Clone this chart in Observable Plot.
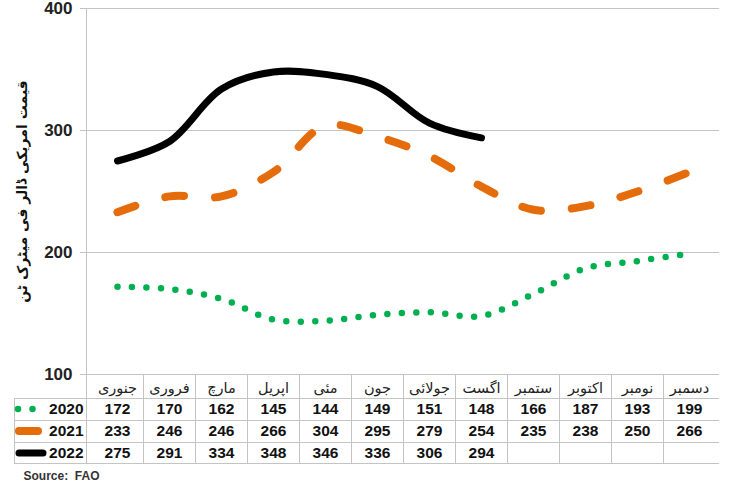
<!DOCTYPE html>
<html>
<head>
<meta charset="utf-8">
<script src="https://cdn.jsdelivr.net/npm/d3@7"></script>
<script src="https://cdn.jsdelivr.net/npm/@observablehq/plot@0.6"></script>
<style>
  html, body { margin: 0; padding: 0; background: #fff; }
</style>
</head>
<body>
<div id="chart"></div>
<script>
// ---- data ----
const months = ["جنوری", "فروری", "مارچ", "اپریل", "مئی", "جون", "جولائی", "اگست", "ستمبر", "اکتوبر", "نومبر", "دسمبر"];
const years = ["2020", "2021", "2022"];
const values2020 = [172, 170, 162, 145, 144, 149, 151, 148, 166, 187, 193, 199];
const values2021 = [233, 246, 246, 266, 304, 295, 279, 254, 235, 238, 250, 266];
const values2022 = [275, 291, 334, 348, 346, 336, 306, 294];
const yTicks = [100, 200, 300, 400];
const yTitle = "قیمت امریکی ڈالر فی میٹرک ٹن";
const sourceText = "Source:  FAO";

// ---- series styles ----
const seriesStyles = [
  {stroke: "#00b050", strokeWidth: 6.5, strokeDasharray: "0 14.5"},
  {stroke: "#e46c0a", strokeWidth: 8, strokeDasharray: "19 31"},
  {stroke: "#000000", strokeWidth: 7, strokeDasharray: null}
];

const seriesValues = [values2020, values2021, values2022];
const series = seriesValues.map((vals, i) =>
  vals.map((v, j) => ({year: years[i], month: months[j], value: v}))
);

const gridColor = "#c4c4c4";
const rowOffsets = [14, 35, 57, 79];       // text centres below frame bottom
const rowBounds = [24, 46, 68, 89];        // row borders below frame bottom

// custom mark drawing the data-table grid and legend swatches
function tableGrid(index, scales, values, dims) {
  const g = d3.create("svg:g").attr("fill", "none");
  const x0 = dims.marginLeft;
  const x1 = dims.width - dims.marginRight;
  const yb = dims.height - dims.marginBottom;
  const yt = dims.marginTop;
  const tableLeft = 14;
  const grid = g.append("g").attr("stroke", gridColor).attr("stroke-width", 1);
  // axis line, extending through the table
  grid.append("line").attr("x1", x0 + 0.5).attr("x2", x0 + 0.5).attr("y1", yt).attr("y2", yb + rowBounds[3]);
  // column separators
  months.forEach((m, i) => {
    if (i === 0) return;
    const x = Math.round(scales.x(m)) + 0.5;
    grid.append("line").attr("x1", x).attr("x2", x).attr("y1", yb).attr("y2", yb + rowBounds[3]);
  });
  // left border of the legend column
  grid.append("line").attr("x1", tableLeft + 0.5).attr("x2", tableLeft + 0.5)
    .attr("y1", yb + rowBounds[0]).attr("y2", yb + rowBounds[3]);
  // horizontal row borders
  rowBounds.forEach(b => {
    grid.append("line").attr("x1", tableLeft).attr("x2", x1)
      .attr("y1", yb + b + 0.5).attr("y2", yb + b + 0.5);
  });
  // legend swatches
  const swatchX = [[18, 33.5], [19, 41], [19, 43]];
  seriesStyles.forEach((s, i) => {
    const y = yb + rowOffsets[i + 1];
    const ln = g.append("line")
      .attr("x1", swatchX[i][0]).attr("x2", swatchX[i][1])
      .attr("y1", y).attr("y2", y)
      .attr("stroke", s.stroke).attr("stroke-width", s.strokeWidth)
      .attr("stroke-linecap", "round");
    if (s.strokeDasharray) ln.attr("stroke-dasharray", s.strokeDasharray);
  });
  return g.node();
}

const font = "'Liberation Sans', Arial, Helvetica, sans-serif";
const urduFont = "'DejaVu Sans', sans-serif";

const marks = [
  Plot.gridY(yTicks.slice(1), {stroke: gridColor, strokeOpacity: 1}),
  Plot.ruleY([yTicks[0]], {stroke: gridColor}),
  Plot.axisY({
    ticks: yTicks, tickSize: 6, tickPadding: 8, tickFormat: d => String(d),
    label: null, fontSize: 17, fontWeight: "bold", stroke: gridColor, fill: "#222"
  }),
  tableGrid,
  // y-axis title
  Plot.text([yTitle], {
    frameAnchor: "left", dx: -64, rotate: -90, textAnchor: "middle", lineAnchor: "middle",
    fontFamily: urduFont, fontWeight: "bold", fontSize: 14, fill: "#111"
  }),
  // month header row
  Plot.text(months, {
    x: d => d, text: d => d, frameAnchor: "bottom", dy: rowOffsets[0], lineAnchor: "middle",
    fontFamily: urduFont, fontSize: 14.5, fill: "#222"
  }),
  // year labels
  ...years.map((yr, i) => Plot.text([yr], {
    frameAnchor: "bottom-left", dx: -3, dy: rowOffsets[i + 1], textAnchor: "end", lineAnchor: "middle",
    fontWeight: "bold", fontSize: 15.5, fill: "#111"
  })),
  // table values
  ...series.map((data, i) => Plot.text(data, {
    x: "month", text: d => String(d.value), frameAnchor: "bottom", dy: rowOffsets[i + 1], lineAnchor: "middle",
    fontWeight: "bold", fontSize: 15.5, fill: "#111"
  })),
  // lines
  ...series.map((data, i) => Plot.line(data, {
    x: "month", y: "value", curve: "catmull-rom",
    stroke: seriesStyles[i].stroke, strokeWidth: seriesStyles[i].strokeWidth,
    strokeDasharray: seriesStyles[i].strokeDasharray || undefined,
    strokeLinecap: "round", strokeLinejoin: "round"
  })),
  // source
  Plot.text([sourceText], {
    frameAnchor: "bottom-left", dx: -63, dy: 102, textAnchor: "start", lineAnchor: "middle",
    fontWeight: "bold", fontSize: 12, fill: "#333"
  })
];

const chart = Plot.plot({
  width: 729,
  height: 484,
  marginTop: 8,
  marginLeft: 86,
  marginRight: 10,
  marginBottom: 110,
  x: {type: "band", domain: months, padding: 0, axis: null},
  y: {domain: [100, 400], axis: null},
  style: {fontFamily: font, background: "#fff", overflow: "visible"},
  marks
});
document.getElementById("chart").appendChild(chart);
</script>
</body>
</html>
